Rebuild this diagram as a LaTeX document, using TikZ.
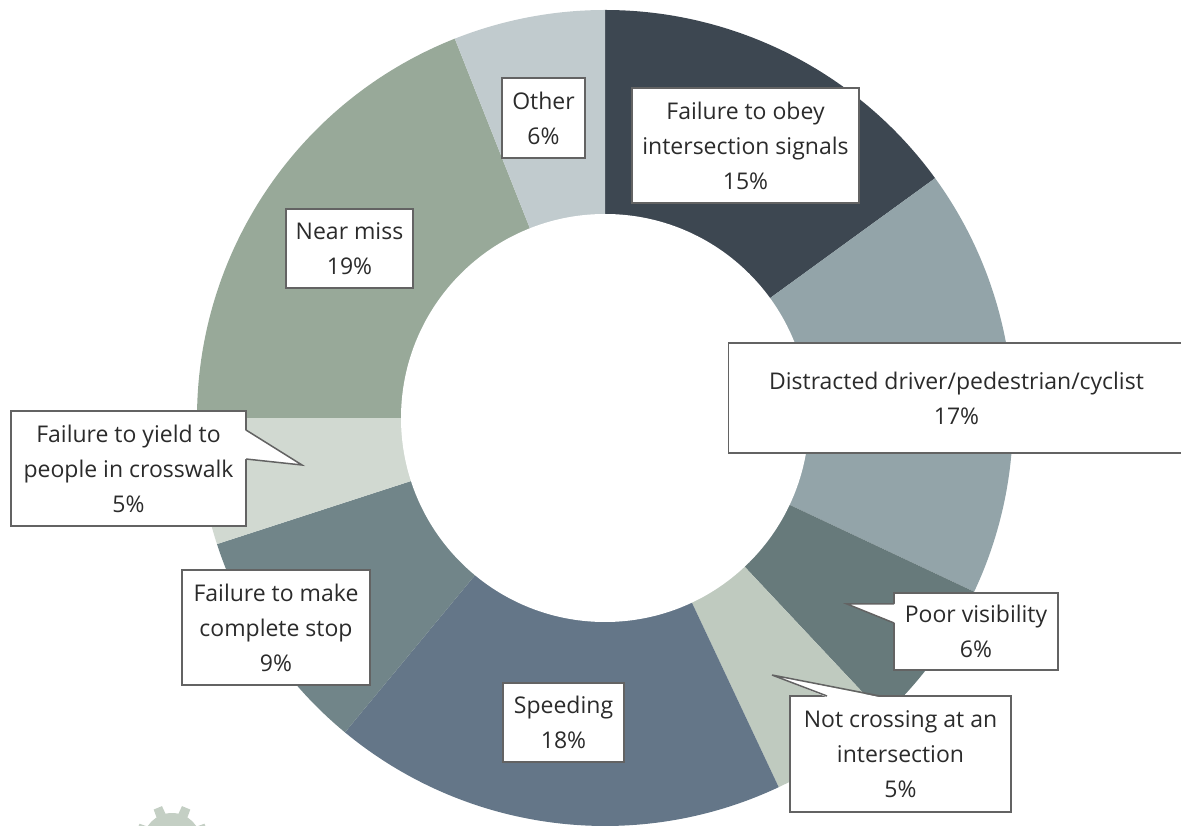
\documentclass[tikz,border=0pt]{standalone}
\usepackage{fontspec}
\setmainfont{Open Sans}
\definecolor{obeyc}{HTML}{3D4751}
\definecolor{distractc}{HTML}{93A4A9}
\definecolor{poorc}{HTML}{677A7B}
\definecolor{crossc}{HTML}{BFCABF}
\definecolor{speedc}{HTML}{647688}
\definecolor{stopc}{HTML}{718589}
\definecolor{yieldc}{HTML}{D1D9D1}
\definecolor{nearc}{HTML}{98A999}
\definecolor{otherc}{HTML}{C1CBCE}
\definecolor{gearc}{HTML}{C4CFC4}
\definecolor{boxc}{HTML}{636363}
\definecolor{txtc}{HTML}{2B2B2B}
\tikzset{
	% label boxes
	lbl/.style={draw=boxc,fill=white,line width=1.5pt,align=center,text=txtc,inner sep=0pt,
		font=\fontsize{23}{35}\selectfont},
	% callout pointer
	pointer/.style={draw=boxc,fill=white,line width=1.5pt,line join=miter},
}
\begin{document}
\begin{tikzpicture}[x=1pt,y=1pt]
	\useasboundingbox (0,0) rectangle (1181,825);
	\clip (0,0) rectangle (1181,825);
	\coordinate (ctr) at (605,407);
	
	% logo
	\coordinate (gear) at (172,-17);
	\fill[gearc] (gear) circle (29);
	\foreach \a in {22.5,67.5,...,337.5}
		\fill[gearc,rotate around={\a:(gear)}] ([xshift=-6]gear) -- ([xshift=-4.5,yshift=37]gear) -- ([xshift=4.5,yshift=37]gear) -- ([xshift=6]gear) -- cycle;
	
	% donut
	\fill[obeyc] (ctr) -- ++(90:408) arc[start angle=90,end angle=36,radius=408] -- cycle;
	\fill[distractc] (ctr) -- ++(36:408) arc[start angle=36,end angle=-25.2,radius=408] -- cycle;
	\fill[poorc] (ctr) -- ++(-25.2:408) arc[start angle=-25.2,end angle=-46.8,radius=408] -- cycle;
	\fill[crossc] (ctr) -- ++(-46.8:408) arc[start angle=-46.8,end angle=-64.8,radius=408] -- cycle;
	\fill[speedc] (ctr) -- ++(-64.8:408) arc[start angle=-64.8,end angle=-129.6,radius=408] -- cycle;
	\fill[stopc] (ctr) -- ++(-129.6:408) arc[start angle=-129.6,end angle=-162,radius=408] -- cycle;
	\fill[yieldc] (ctr) -- ++(-162:408) arc[start angle=-162,end angle=-180,radius=408] -- cycle;
	\fill[nearc] (ctr) -- ++(-180:408) arc[start angle=-180,end angle=-248.4,radius=408] -- cycle;
	\fill[otherc] (ctr) -- ++(-248.4:408) arc[start angle=-248.4,end angle=-270,radius=408] -- cycle;
	\fill[white] (ctr) circle (204);
	
	% labels
	\node[lbl,minimum width=227,minimum height=115] (obey) at (745.5,679.5) {Failure to obey\\intersection signals\\15\%};
	\node[lbl,minimum width=456,minimum height=110] (distract) at (956.5,427) {Distracted driver/pedestrian/cyclist\\17\%};
	\node[lbl,minimum width=164,minimum height=77] (poor) at (976,193.5) {Poor visibility\\6\%};
	\node[lbl,minimum width=221,minimum height=116] (cross) at (900.5,71) {Not crossing at an\\intersection\\5\%};
	\node[lbl,minimum width=121,minimum height=79] (speed) at (563.5,102.5) {Speeding\\18\%};
	\node[lbl,minimum width=188,minimum height=115] (stop) at (276,197.5) {Failure to make\\complete stop\\9\%};
	\node[lbl,minimum width=235,minimum height=115] (yield) at (128.5,356.5) {Failure to yield to\\people in crosswalk\\5\%};
	\node[lbl,minimum width=127,minimum height=79] (near) at (349.5,576.5) {Near miss\\19\%};
	\node[lbl,minimum width=83,minimum height=80] (other) at (543.5,707) {Other\\6\%};
	
	% callouts
	\coordinate (yieldtip) at (302,360);
	\coordinate (poortip) at (847,221);
	\coordinate (crosstip) at (772,150);
	\fill[white] ([xshift=-2,yshift=38.5]yield.east) -- (yieldtip) -- ([xshift=-2,yshift=9.5]yield.east) -- cycle;
	\draw[pointer,fill=none] ([xshift=-0.75,yshift=38.5]yield.east) -- (yieldtip) -- ([xshift=-0.75,yshift=9.5]yield.east);
	\fill[white] ([xshift=2,yshift=27.5]poor.west) -- (poortip) -- ([xshift=2,yshift=8.5]poor.west) -- cycle;
	\draw[pointer,fill=none] ([xshift=0.75,yshift=27.5]poor.west) -- (poortip) -- ([xshift=0.75,yshift=8.5]poor.west);
	\fill[white] ([xshift=-73.5,yshift=-2]cross.north) -- (crosstip) -- ([xshift=-20.5,yshift=-2]cross.north) -- cycle;
	\draw[pointer,fill=none] ([xshift=-73.5,yshift=-0.75]cross.north) -- (crosstip) -- ([xshift=-20.5,yshift=-0.75]cross.north);
\end{tikzpicture}
\end{document}
